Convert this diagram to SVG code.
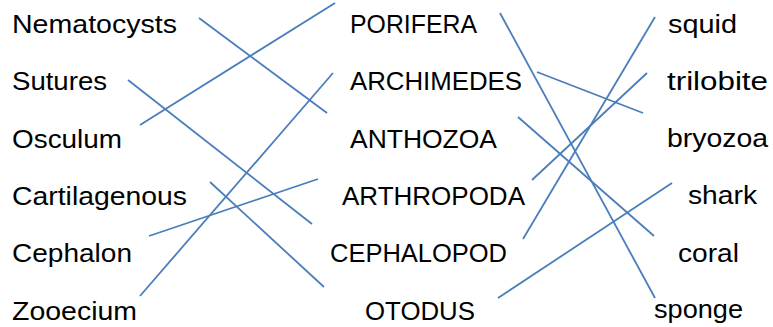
<svg xmlns="http://www.w3.org/2000/svg" width="773" height="327" viewBox="0 0 773 327">
<style>
.t{font-family:"Liberation Sans",Arial,sans-serif;font-size:26px;fill:#000}
.c line{stroke:#4a7ebb;stroke-width:1.8;fill:none}
</style>
<rect width="773" height="327" fill="#fff"/>
<g id="left">
<g id="n-nematocysts"><text class="t" x="12" y="33" textLength="165" lengthAdjust="spacingAndGlyphs">Nematocysts</text></g>
<g id="n-sutures"><text class="t" x="12" y="90" textLength="95" lengthAdjust="spacingAndGlyphs">Sutures</text></g>
<g id="n-osculum"><text class="t" x="12" y="148" textLength="110" lengthAdjust="spacingAndGlyphs">Osculum</text></g>
<g id="n-cartilagenous"><text class="t" x="12" y="205" textLength="175" lengthAdjust="spacingAndGlyphs">Cartilagenous</text></g>
<g id="n-cephalon"><text class="t" x="12" y="262" textLength="120" lengthAdjust="spacingAndGlyphs">Cephalon</text></g>
<g id="n-zooecium"><text class="t" x="12" y="320" textLength="125" lengthAdjust="spacingAndGlyphs">Zooecium</text></g>
</g>
<g id="middle">
<g id="n-porifera"><text class="t" x="350" y="33" textLength="127" lengthAdjust="spacingAndGlyphs">PORIFERA</text></g>
<g id="n-archimedes"><text class="t" x="350" y="90" textLength="172" lengthAdjust="spacingAndGlyphs">ARCHIMEDES</text></g>
<g id="n-anthozoa"><text class="t" x="350" y="148" textLength="147" lengthAdjust="spacingAndGlyphs">ANTHOZOA</text></g>
<g id="n-arthropoda"><text class="t" x="342" y="205" textLength="183" lengthAdjust="spacingAndGlyphs">ARTHROPODA</text></g>
<g id="n-cephalopod"><text class="t" x="330" y="262" textLength="177" lengthAdjust="spacingAndGlyphs">CEPHALOPOD</text></g>
<g id="n-otodus"><text class="t" x="365" y="320" textLength="110" lengthAdjust="spacingAndGlyphs">OTODUS</text></g>
</g>
<g id="right">
<g id="n-squid"><text class="t" x="668" y="33" textLength="69" lengthAdjust="spacingAndGlyphs">squid</text></g>
<g id="n-trilobite"><text class="t" x="667" y="90" textLength="101" lengthAdjust="spacingAndGlyphs">trilobite</text></g>
<g id="n-bryozoa"><text class="t" x="667" y="147" textLength="101" lengthAdjust="spacingAndGlyphs">bryozoa</text></g>
<g id="n-shark"><text class="t" x="688" y="204" textLength="69" lengthAdjust="spacingAndGlyphs">shark</text></g>
<g id="n-coral"><text class="t" x="678" y="262" textLength="61" lengthAdjust="spacingAndGlyphs">coral</text></g>
<g id="n-sponge"><text class="t" x="654" y="318" textLength="89" lengthAdjust="spacingAndGlyphs">sponge</text></g>
</g>
<g id="connectors" class="c">
<line x1="199" y1="18" x2="327" y2="113"/>
<line x1="128" y1="80" x2="312" y2="224"/>
<line x1="140" y1="125" x2="335" y2="3"/>
<line x1="210" y1="182" x2="324" y2="287"/>
<line x1="149" y1="236" x2="318" y2="179"/>
<line x1="140" y1="296" x2="333" y2="73"/>
<line x1="500" y1="13" x2="655" y2="298"/>
<line x1="537" y1="72" x2="643" y2="113"/>
<line x1="523" y1="239" x2="655" y2="17"/>
<line x1="532" y1="180" x2="647" y2="73"/>
<line x1="518" y1="117" x2="654" y2="236"/>
<line x1="498" y1="298" x2="672" y2="183"/>
</g>
</svg>
